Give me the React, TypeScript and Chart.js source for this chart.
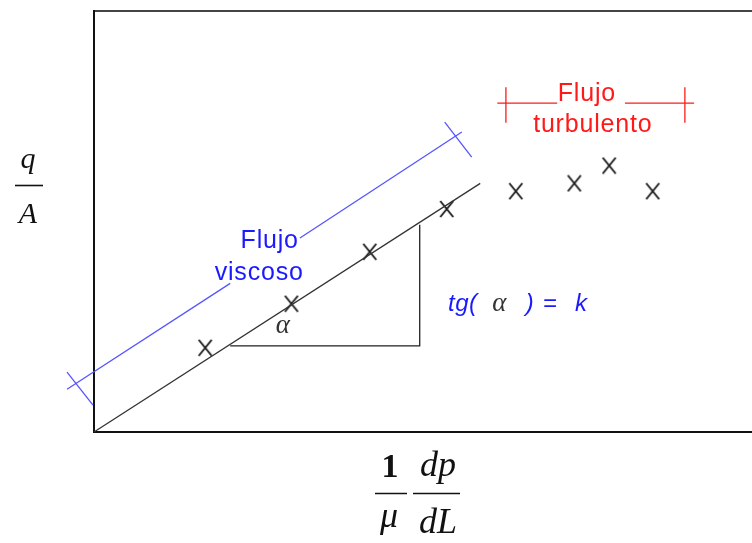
import { useEffect, useRef } from "react";
import { Chart, registerables } from "chart.js";

Chart.register(...registerables);

// Measured points in the viscous (laminar) range
const viscousX = [16.9, 30.0, 41.9, 53.6];
const viscousY = [12.8, 19.5, 27.4, 33.9];

// Measured points in the turbulent range
const turbulentX = [64.1, 73.0, 78.3, 84.9];
const turbulentY = [36.6, 37.8, 40.5, 36.6];

// Straight fit through the origin
const fitX = [0, 58.7];
const fitY = [0, 37.8];

// Slope triangle (run along the bottom, rise on the right)
const triangleX = [20.7, 49.5, 49.5];
const triangleY = [13.1, 13.1, 31.5];

// Blue bracket for the viscous range (parallel to the fit, broken for its label)
const blueLowX = [-4.1, 20.7];
const blueLowY = [6.5, 22.6];
const blueHighX = [31.3, 55.9];
const blueHighY = [29.5, 45.6];
const blueCapAX = [-4.1, -0.15];
const blueCapAY = [9.1, 4.1];
const blueCapBX = [53.3, 57.4];
const blueCapBY = [47.1, 41.8];

// Red bracket for the turbulent range
const redLeftX = [61.3, 70.4];
const redRightX = [80.7, 91.2];
const redLevel = 50.0;
const redCapX = [62.6, 89.8];
const redCapY = [52.4, 47.0];

const X_MAX = 100;
const Y_MAX = 64;

const BLUE_LINE = "#5555ff";
const BLUE_TEXT = "#1a1aff";
const RED = "#ff1a1a";
const SANS = '"Liberation Sans", Arial, sans-serif';
const SERIF = '"Liberation Serif", "Times New Roman", serif';

function pairs(xs: number[], ys: number[]) {
  return xs.map((x, i) => ({ x, y: ys[i] }));
}

function makeCross(): HTMLCanvasElement {
  const c = document.createElement("canvas");
  c.width = 16;
  c.height = 18;
  const g = c.getContext("2d")!;
  g.strokeStyle = "#1a1a1a";
  g.lineWidth = 1.9;
  g.beginPath();
  g.moveTo(1.5, 1);
  g.lineTo(14.5, 17);
  g.moveTo(14.5, 1);
  g.lineTo(1.5, 17);
  g.stroke();
  return c;
}

function segment(xs: number[], ys: number[], color: string, width = 1.3) {
  return {
    type: "scatter" as const,
    data: pairs(xs, ys),
    showLine: true,
    borderColor: color,
    backgroundColor: color,
    borderWidth: width,
    pointRadius: 0,
    clip: false as const,
  };
}

const overlay = {
  id: "overlay",
  beforeDatasetsDraw(chart: any) {
    const { ctx, chartArea: a } = chart;
    ctx.save();
    ctx.lineWidth = 2;
    ctx.strokeStyle = "#444";
    ctx.beginPath();
    ctx.moveTo(a.left, a.top);
    ctx.lineTo(a.right, a.top);
    ctx.stroke();
    ctx.strokeStyle = "#111";
    ctx.beginPath();
    ctx.moveTo(a.left, a.top - 1);
    ctx.lineTo(a.left, a.bottom);
    ctx.lineTo(a.right, a.bottom);
    ctx.stroke();
    ctx.restore();
  },
  afterDatasetsDraw(chart: any) {
    const { ctx } = chart;
    const xs = chart.scales.x;
    const ys = chart.scales.y;
    const px = (v: number) => xs.getPixelForValue(v);
    const py = (v: number) => ys.getPixelForValue(v);
    ctx.save();
    ctx.textBaseline = "alphabetic";

    // Range labels
    ctx.font = `25px ${SANS}`;
    ctx.letterSpacing = "0.8px";
    ctx.textAlign = "center";
    ctx.fillStyle = BLUE_TEXT;
    ctx.fillText("Flujo", px(26.7), py(28.0));
    ctx.fillText("viscoso", px(25.1), py(23.1));
    ctx.fillStyle = RED;
    ctx.fillText("Flujo", px(74.9), py(50.3));
    ctx.fillText("turbulento", px(75.8), py(45.6));

    // Slope relation
    ctx.textAlign = "left";
    ctx.letterSpacing = "0.5px";
    ctx.font = `italic 24px ${SANS}`;
    ctx.fillStyle = BLUE_TEXT;
    const base = py(18.4);
    ctx.fillText("tg(", px(53.8), base);
    ctx.fillText(")", px(65.6), base);
    ctx.fillText("=", px(68.2), base);
    ctx.fillText("k", px(73.1), base);
    ctx.letterSpacing = "0px";
    ctx.fillStyle = "#333";
    ctx.font = `italic 27px ${SERIF}`;
    ctx.textAlign = "center";
    ctx.fillText("α", px(61.6), base);

    // Angle mark
    ctx.fillText("α", px(28.7), py(15.0));

    // Axis titles
    ctx.fillStyle = "#111";
    ctx.strokeStyle = "#111";
    ctx.lineWidth = 1.6;
    ctx.font = `italic 30px ${SERIF}`;
    ctx.fillText("q", 28, 168);
    ctx.fillText("A", 28, 223);
    ctx.beginPath();
    ctx.moveTo(15, 185.5);
    ctx.lineTo(43, 185.5);
    ctx.stroke();

    ctx.font = `bold 34px ${SERIF}`;
    ctx.fillText("1", 390, 477);
    ctx.font = `italic 36px ${SERIF}`;
    ctx.fillText("μ", 389, 527);
    ctx.fillText("dp", 438, 476);
    ctx.fillText("dL", 438, 533);
    ctx.beginPath();
    ctx.moveTo(375, 493.5);
    ctx.lineTo(407, 493.5);
    ctx.moveTo(413, 493.5);
    ctx.lineTo(460, 493.5);
    ctx.stroke();

    ctx.restore();
  },
};

export default function App() {
  const ref = useRef<HTMLCanvasElement | null>(null);

  useEffect(() => {
    document.body.style.margin = "0";
    const canvas = ref.current;
    if (!canvas) return;
    const cross = makeCross();
    const markers = (xs: number[], ys: number[]) => ({
      type: "scatter" as const,
      data: pairs(xs, ys),
      showLine: false,
      pointStyle: cross,
      pointRadius: 8,
      clip: false as const,
    });

    const chart = new Chart(canvas, {
      type: "scatter",
      data: {
        datasets: [
          segment(fitX, fitY, "#333", 1.3),
          segment(triangleX, triangleY, "#222", 1.3),
          segment(blueLowX, blueLowY, BLUE_LINE),
          segment(blueHighX, blueHighY, BLUE_LINE),
          segment(blueCapAX, blueCapAY, BLUE_LINE),
          segment(blueCapBX, blueCapBY, BLUE_LINE),
          segment(redLeftX, [redLevel, redLevel], RED),
          segment(redRightX, [redLevel, redLevel], RED),
          segment([redCapX[0], redCapX[0]], redCapY, RED),
          segment([redCapX[1], redCapX[1]], redCapY, RED),
          markers(viscousX, viscousY),
          markers(turbulentX, turbulentY),
        ] as any,
      },
      options: {
        animation: false,
        responsive: false,
        devicePixelRatio: 1,
        layout: { autoPadding: false, padding: { left: 94, top: 11, right: 0, bottom: 111 } },
        plugins: { legend: { display: false }, tooltip: { enabled: false } },
        scales: {
          x: { type: "linear", min: 0, max: X_MAX, display: false },
          y: { type: "linear", min: 0, max: Y_MAX, display: false },
        },
      },
      plugins: [overlay],
    });
    return () => chart.destroy();
  }, []);

  return (
    <div style={{ width: 752, height: 543, background: "#fff" }}>
      <canvas ref={ref} width={752} height={543} />
    </div>
  );
}
